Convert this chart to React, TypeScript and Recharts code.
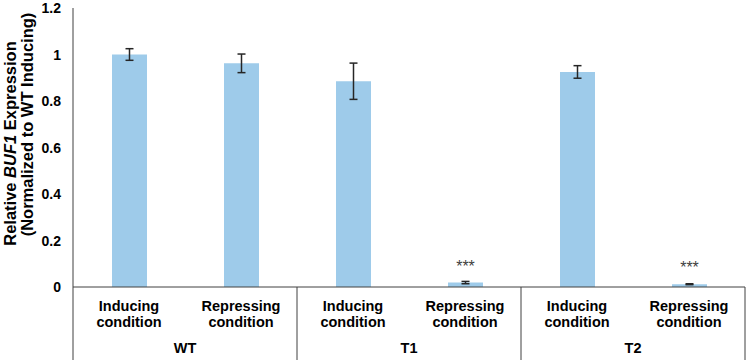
import { BarChart, Bar, XAxis, YAxis, ErrorBar, LabelList } from "recharts";

const groups = ["WT", "T1", "T2"];
const conditions = ["Inducing condition", "Repressing condition"];
const expression = [1.0, 0.962, 0.885, 0.019, 0.925, 0.012];
const errors = [0.025, 0.04, 0.078, 0.005, 0.027, 0.002];
const significance = ["", "", "", "***", "", "***"];
const yTicks = [0, 0.2, 0.4, 0.6, 0.8, 1, 1.2];

const data = expression.map((value, i) => ({
  key: `${groups[Math.floor(i / 2)]}-${i % 2}`,
  group: groups[Math.floor(i / 2)],
  condition: conditions[i % 2],
  value,
  err: errors[i],
  sig: significance[i],
}));

const FONT = "'Liberation Sans', Arial, sans-serif";
const INK = "#404040";
const AXIS_H = 73;

function ConditionTick(props: any) {
  const { x, y, payload, index } = props;
  const half = payload?.offset || 56;
  const row = data[index];
  const [first, second] = row.condition.split(" ");
  return (
    <g fontFamily={FONT} fontWeight="bold" fontSize={14.5} fill="#000">
      <text x={x} y={y + 24} textAnchor="middle">{first}</text>
      <text x={x} y={y + 40} textAnchor="middle">{second}</text>
      {index === 0 && (
        <line x1={x - half} x2={x - half} y1={y} y2={y + AXIS_H} stroke={INK} strokeWidth={1} />
      )}
      {index % 2 === 1 && (
        <>
          <line x1={x + half} x2={x + half} y1={y} y2={y + AXIS_H} stroke={INK} strokeWidth={1} />
          <text x={x - half} y={y + 66} textAnchor="middle">{row.group}</text>
        </>
      )}
    </g>
  );
}

function ValueTick(props: any) {
  const { x, y, payload } = props;
  return (
    <text x={x} y={y} dy={5} textAnchor="end" fontFamily={FONT} fontWeight="bold" fontSize={14} fill="#000">
      {String(payload.value)}
    </text>
  );
}

function YTitle(props: any) {
  const { viewBox } = props;
  const cy = viewBox.y + viewBox.height / 2;
  const c1 = cy - 4;
  const c2 = cy - 23;
  return (
    <g fontFamily={FONT} fontWeight="bold" fontSize={16.5} fill="#000">
      <text x={16} y={c1} textAnchor="middle" transform={`rotate(-90 16 ${c1})`}>
        Relative <tspan fontStyle="italic">BUF1</tspan> Expression
      </text>
      <text x={33} y={c2} textAnchor="middle" transform={`rotate(-90 33 ${c2})`}>
        (Normalized to WT Inducing)
      </text>
    </g>
  );
}

function Stars(props: any) {
  const { x, y, width, value } = props;
  if (!value) return null;
  return (
    <text x={x + width / 2} y={y - 11} textAnchor="middle" fontFamily={FONT} fontSize={16} fill={INK}>
      {value}
    </text>
  );
}

export default function App() {
  return (
    <div style={{ position: "absolute", left: 0, top: 0, width: 748, height: 360, background: "#fff" }}>
      <BarChart width={748} height={360} data={data} margin={{ top: 8, right: 3, left: 0, bottom: 0 }}>
        <XAxis
          dataKey="key"
          height={AXIS_H}
          interval={0}
          tickSize={0}
          tickMargin={0}
          axisLine={{ stroke: INK, strokeWidth: 1 }}
          tickLine={false}
          tick={<ConditionTick />}
        />
        <YAxis
          width={73}
          domain={[0, 1.2]}
          ticks={yTicks}
          interval={0}
          tickSize={0}
          tickMargin={12}
          axisLine={{ stroke: INK, strokeWidth: 1 }}
          tickLine={false}
          tick={<ValueTick />}
          label={<YTitle />}
        />
        <Bar dataKey="value" fill="#9ecbea" barSize={35} isAnimationActive={false}>
          <ErrorBar dataKey="err" width={4} stroke="#262626" strokeWidth={1.5} isAnimationActive={false} />
          <LabelList dataKey="sig" content={<Stars />} />
        </Bar>
      </BarChart>
    </div>
  );
}
